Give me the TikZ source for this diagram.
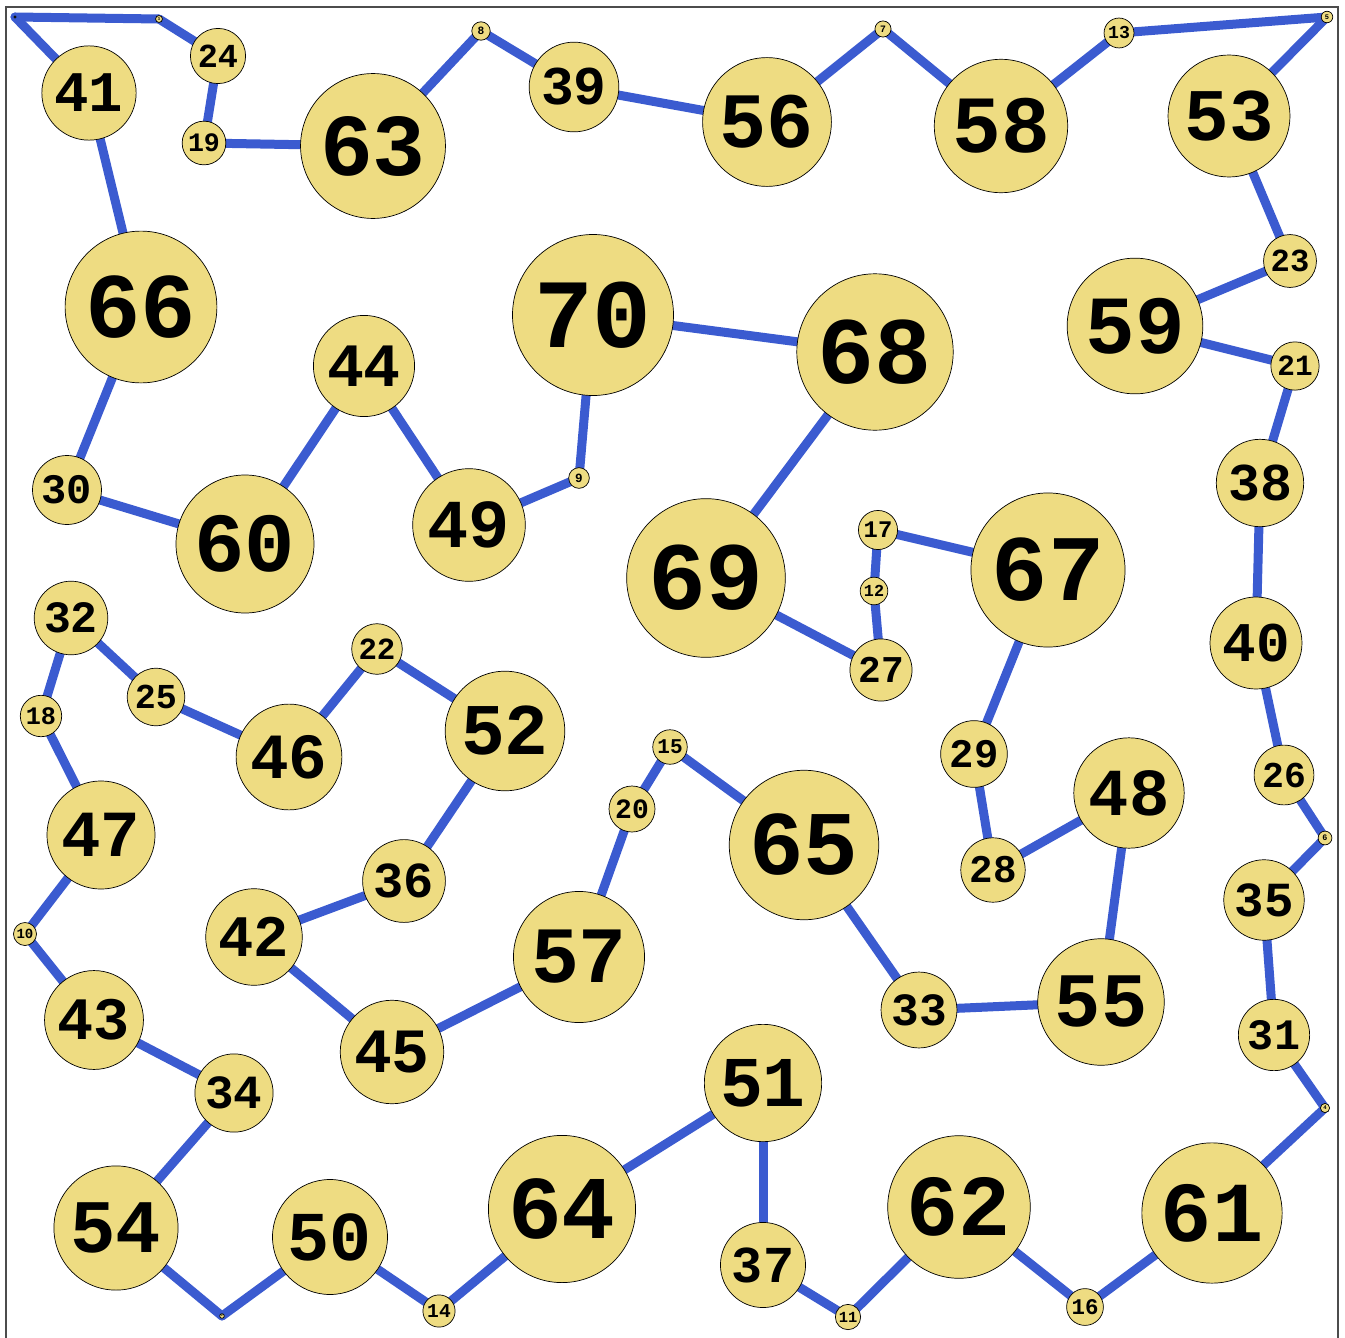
\documentclass[tikz,border=0pt]{standalone}
\usepackage{fontspec}
\newfontfamily\lblfont{Liberation Mono}
\usetikzlibrary{backgrounds}
\definecolor{edgeblue}{RGB}{59,91,208}
\definecolor{vfill}{RGB}{238,220,130}
\tikzset{
  vtx/.style={circle, draw=black, line width=0.7pt, fill=vfill, inner sep=0pt, text=black},
  link/.style={draw=edgeblue, line width=9pt, line cap=round, line join=round},
  frame/.style={draw=black!70, line width=1.2pt}
}
\begin{document}
\begin{tikzpicture}[x=1pt,y=-1pt]
\useasboundingbox (0,0) rectangle (1345,1338);
\draw[frame] (6,1345) -- (6,7) -- (1338,7) -- (1338,1345);
\foreach \n/\x/\y in {
1/15/17, 2/222/1316, 3/159/19, 4/1325/1108, 5/1327/17, 6/1325/838, 7/883/29, 8/481/31, 9/579/478, 10/25/934,
11/848/1317, 12/874/591, 13/1119/33, 14/439/1311, 15/670/747, 16/1085/1307, 17/878/530, 18/41/716, 19/204/143, 20/632/809,
21/1295/366, 22/377/649, 23/1290/261, 24/218/56, 25/156/697, 26/1284/775, 27/881/670, 28/993/870, 29/974/754, 30/67/490,
31/1274/1035, 32/71/618, 33/919/1010, 34/234/1093, 35/1264/900, 36/404/881, 37/763/1265, 38/1260/483, 39/574/87, 40/1256/643,
41/89/93, 42/254/937, 43/94/1020, 44/364/366, 45/392/1052, 46/289/757, 47/101/835, 48/1129/793, 49/469/525, 50/330/1237,
51/763/1083, 52/505/731, 53/1229/116, 54/116/1228, 55/1101/1002, 56/767/122, 57/579/957, 58/1001/126, 59/1135/326, 60/245/544,
61/1212/1213, 62/959/1207, 63/373/146, 64/562/1209, 65/804/845, 66/141/307, 67/1048/570, 68/875/352, 69/706/578, 70/593/315} {
  \pgfmathsetmacro\dd{2.3*\n}
  \pgfmathsetmacro\fs{1.4*\n}
  \node[vtx, minimum size=\dd pt, font=\lblfont\bfseries\fontsize{\fs pt}{\fs pt}\selectfont] (v\n) at (\x,\y) {\n};
}
\begin{pgfonlayer}{background}
\foreach \a/\b in {1/41, 41/66, 66/30, 30/60, 60/44, 44/49, 49/9, 9/70, 70/68, 68/69, 69/27, 27/12, 12/17, 17/67, 67/29, 29/28, 28/48, 48/55, 55/33, 33/65, 65/15, 15/20, 20/57, 57/45, 45/42, 42/36, 36/52, 52/22, 22/46, 46/25, 25/32, 32/18, 18/47, 47/10, 10/43, 43/34, 34/54, 54/2, 2/50, 50/14, 14/64, 64/51, 51/37, 37/11, 11/62, 62/16, 16/61, 61/4, 4/31, 31/35, 35/6, 6/26, 26/40, 40/38, 38/21, 21/59, 59/23, 23/53, 53/5, 5/13, 13/58, 58/7, 7/56, 56/39, 39/8, 8/63, 63/19, 19/24, 24/3, 3/1} {
  \draw[link] (v\a.center) -- (v\b.center);
}
\end{pgfonlayer}
\end{tikzpicture}
\end{document}
